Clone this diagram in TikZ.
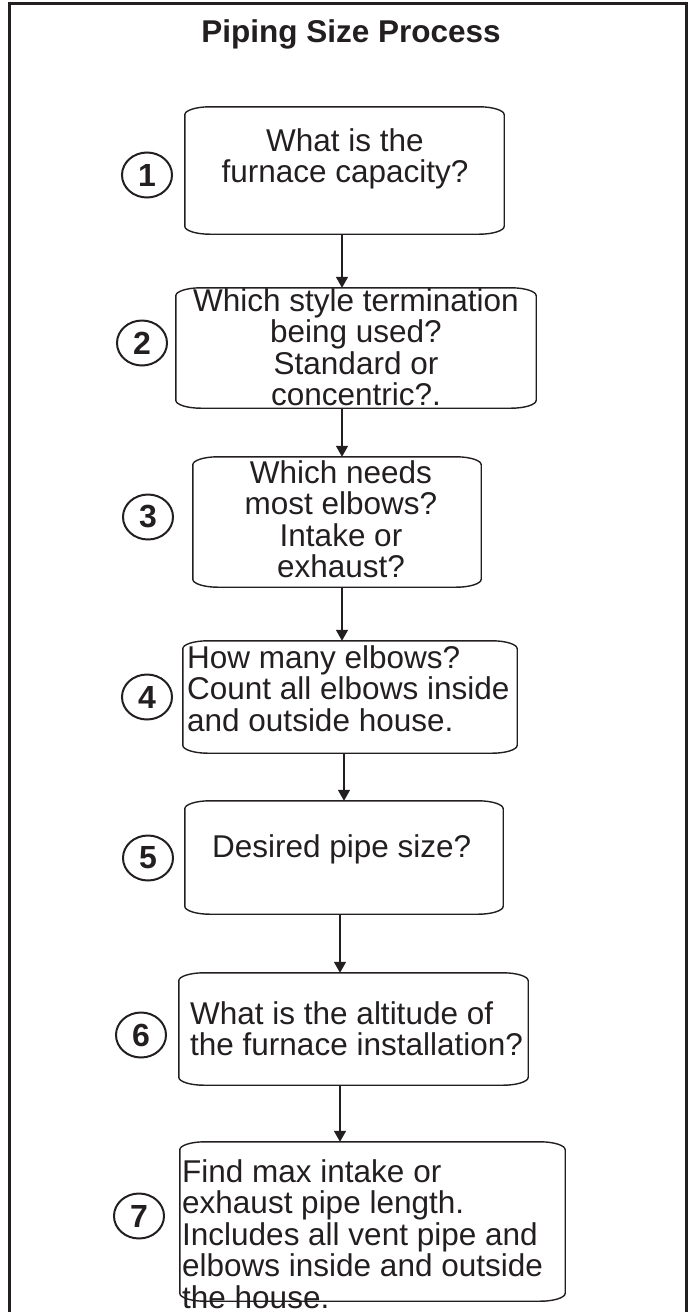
\documentclass[tikz,border=0pt]{standalone}
\usepackage{fontspec}
\setmainfont{Liberation Sans}
\usetikzlibrary{shapes.geometric,arrows.meta}
\definecolor{ink}{HTML}{231F20}
\tikzset{
  boxarea/.style={draw=none,rectangle,inner sep=0pt},
  cardline/.style={draw=ink,line width=1.4pt},
  numc/.style={draw=ink,ellipse,line width=2pt,minimum width=50pt,minimum height=45pt,inner sep=0pt,
    font=\fontsize{32}{32}\selectfont\bfseries,text=ink},
  txt/.style={inner sep=0pt,text=ink,font=\fontsize{31.5}{31.5}\selectfont},
  arr/.style={draw=ink,line width=1.5pt,-{Triangle[length=11pt,width=12pt]}},
  frameline/.style={draw=ink,line width=3pt}
}
\newcommand\drawcard[1]{%
  \draw[cardline] ([yshift=-8pt]#1.north west) -- ([yshift=8pt]#1.south west)
    arc[start angle=180,end angle=270,x radius=25pt,y radius=8pt]
    -- ([xshift=-25pt]#1.south east)
    arc[start angle=270,end angle=360,x radius=25pt,y radius=8pt]
    -- ([yshift=-8pt]#1.north east)
    arc[start angle=0,end angle=90,x radius=25pt,y radius=8pt]
    -- ([xshift=25pt]#1.north west)
    arc[start angle=90,end angle=180,x radius=25pt,y radius=8pt] -- cycle;}
\newcommand\ctext[2]{\parbox[t]{#1}{\centering #2}}
\newcommand\ltext[2]{\parbox[t]{#1}{\raggedright #2}}
\begin{document}
\begin{tikzpicture}[x=1pt,y=-1pt]
\useasboundingbox (0,0) rectangle (691,1312);
% outer frame (bottom edge outside the picture)
\coordinate (fbl) at (9,1320);
\coordinate (ftl) at (9,3);
\coordinate (ftr) at (686.5,3);
\coordinate (fbr) at (686.5,1320);
\begin{scope}
\clip (0,0) rectangle (691,1312);
\draw[frameline] (fbl) -- (ftl) -- (ftr) -- (fbr);
\end{scope}
% title
\node[txt,anchor=base,font=\fontsize{31.5}{31.5}\selectfont\bfseries] (title) at (351,42) {Piping Size Process};
% boxes
\node[boxarea,minimum width=319pt,minimum height=127pt] (b1) at (344.5,170.5) {};
\node[boxarea,minimum width=360pt,minimum height=120pt] (b2) at (356,348) {};
\node[boxarea,minimum width=288pt,minimum height=130pt] (b3) at (337,522) {};
\node[boxarea,minimum width=334pt,minimum height=112pt] (b4) at (350,697) {};
\node[boxarea,minimum width=318pt,minimum height=113pt] (b5) at (344,857.5) {};
\node[boxarea,minimum width=349pt,minimum height=112pt] (b6) at (353.5,1029) {};
\node[boxarea,minimum width=385pt,minimum height=159pt] (b7) at (372.5,1221.5) {};
\drawcard{b1}\drawcard{b2}\drawcard{b3}\drawcard{b4}\drawcard{b5}\drawcard{b6}\drawcard{b7}
% texts
\node[txt,anchor=base] (t1) at (345,151) {\ctext{320pt}{What is the\\furnace capacity?}};
\node[txt,anchor=base] (t2) at (356,311) {\ctext{360pt}{Which style termination\\being used?\\Standard or\\concentric?.}};
\node[txt,anchor=base] (t3) at (341,483) {\ctext{300pt}{Which needs\\most elbows?\\Intake or\\exhaust?}};
\node[txt,anchor=base west] (t4) at (187,668) {\ltext{360pt}{How many elbows?\\Count all elbows inside\\and outside house.}};
\node[txt,anchor=base west] (t5) at (212,857) {\ltext{300pt}{Desired pipe size?}};
\node[txt,anchor=base west] (t6) at (190,1024) {\ltext{360pt}{What is the altitude of\\the furnace installation?}};
\node[txt,anchor=base west] (t7) at (182,1182) {\ltext{400pt}{Find max intake or\\exhaust pipe length.\\Includes all vent pipe and\\elbows inside and outside\\the house.}};
% number circles
\node[numc] (n1) at (147,175) {1};
\node[numc] (n2) at (142,343) {2};
\node[numc] (n3) at (148,517) {3};
\node[numc] (n4) at (147,697) {4};
\node[numc] (n5) at (148,858) {5};
\node[numc] (n6) at (141,1035) {6};
\node[numc] (n7) at (139,1216) {7};
% arrow columns
\coordinate (a1) at (342,0);
\coordinate (a2) at (342,0);
\coordinate (a3) at (342,0);
\coordinate (a4) at (344,0);
\coordinate (a5) at (340,0);
\coordinate (a6) at (340,0);
\draw[arr] (b1.south -| a1) -- (b2.north -| a1);
\draw[arr] (b2.south -| a2) -- (b3.north -| a2);
\draw[arr] (b3.south -| a3) -- (b4.north -| a3);
\draw[arr] (b4.south -| a4) -- (b5.north -| a4);
\draw[arr] (b5.south -| a5) -- (b6.north -| a5);
\draw[arr] (b6.south -| a6) -- (b7.north -| a6);
\end{tikzpicture}
\end{document}
